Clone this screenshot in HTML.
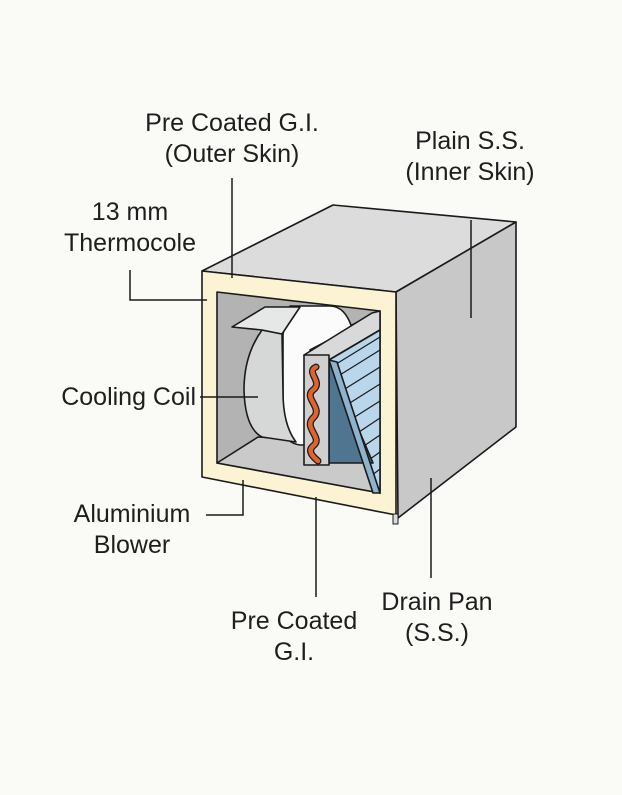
<!DOCTYPE html>
<html><head><meta charset="utf-8"><style>
html,body{margin:0;padding:0;background:#fafaf6;}
svg{display:block}
text{font-family:"Liberation Sans",sans-serif;font-size:25px;fill:#1e1e1e;}
</style></head><body>
<svg width="622" height="795" viewBox="0 0 622 795" xmlns="http://www.w3.org/2000/svg">
<rect width="622" height="795" fill="#fafaf6"/>
<g stroke="#1a1a1a" stroke-width="1.6" stroke-linejoin="round">
<polygon points="202,271 333,205 516,222 396,292" fill="#dcdcdc"/>
<polygon points="396,292 516,222 516,427 398,518" fill="#c8c8c8"/>
<polygon points="202,271 396,292 396,515 202,477" fill="#fbf3d4"/>
<rect x="393" y="514" width="5" height="10" fill="#dcdcdc" stroke-width="1"/>
<polygon points="217,292 380,311 380,493 217,463" fill="#b3b3b3"/>
<polygon points="258,318 350,325 350,440 258,437" fill="#c0c0c0" stroke="none"/>
<polygon points="217,463 258,437 355,443 380,493" fill="#cacaca"/>
<line x1="380" y1="311" x2="350" y2="326"/>
<!-- blower -->
<path d="M283,334 L283,430 Q286,443 300,445 L310,445 L310,350 L352,328 Q345,306 330,306 L290,306 Z" fill="#fbfbfb"/>
<path d="M262,330 Q244,355 244,390 Q245,428 262,437 L296,442 Q283,425 283,392 L282,334 Z" fill="#d6d8d8"/>
<polygon points="232,327 265,307 300,307 282,334 262,330" fill="#e6e8e8"/>
<!-- coil -->
<polygon points="304,355 372,313 380,311 380,330 329,360" fill="#d9d9d9"/>
<polygon points="329,360 380,330 380,493" fill="#b9d6ea"/>
<g stroke-width="1.2">
<line x1="333" y1="366" x2="380" y2="337"/>
<line x1="335" y1="378" x2="380" y2="350"/>
<line x1="340" y1="392" x2="380" y2="367"/>
<line x1="345" y1="406" x2="380" y2="384"/>
<line x1="350" y1="420" x2="380" y2="401"/>
<line x1="356" y1="434" x2="380" y2="418"/>
<line x1="361" y1="448" x2="380" y2="435"/>
<line x1="366" y1="462" x2="380" y2="452"/>
<line x1="371" y1="476" x2="380" y2="469"/>
</g>
<polygon points="329,360 373,463 329,463" fill="#4f7590"/>
<polygon points="329,360 337,362 380,493 373,493" fill="#8eb3cf"/>
<rect x="304" y="355" width="25" height="110" fill="#cfcfcf"/>
<path d="M316,367 C305,372 324,382 313,390 C303,398 324,408 313,418 C303,428 324,438 313,446 C306,452 316,459 318,461" fill="none" stroke="#1a1a1a" stroke-width="7" stroke-linecap="round"/>
<path d="M316,367 C305,372 324,382 313,390 C303,398 324,408 313,418 C303,428 324,438 313,446 C306,452 316,459 318,461" fill="none" stroke="#e0622c" stroke-width="4.5" stroke-linecap="round"/>
</g>
<g stroke="#1a1a1a" stroke-width="1.5" fill="none">
<line x1="232" y1="178" x2="232" y2="278"/>
<line x1="471" y1="220" x2="471" y2="318"/>
<polyline points="130,270 130,300 207,300"/>
<line x1="200" y1="397" x2="258" y2="397"/>
<polyline points="206,515 243,515 243,480"/>
<line x1="316" y1="497" x2="316" y2="597"/>
<line x1="431" y1="478" x2="431" y2="578"/>
</g>
<g text-anchor="middle">
<text x="232" y="131">Pre Coated G.I.</text>
<text x="232" y="162">(Outer Skin)</text>
<text x="470" y="149">Plain S.S.</text>
<text x="470" y="180">(Inner Skin)</text>
<text x="130" y="220">13 mm</text>
<text x="130" y="251">Thermocole</text>
<text x="132" y="522">Aluminium</text>
<text x="132" y="553">Blower</text>
<text x="294" y="629">Pre Coated</text>
<text x="294" y="660">G.I.</text>
<text x="437" y="610">Drain Pan</text>
<text x="437" y="641">(S.S.)</text>
</g>
<text x="196" y="405" text-anchor="end">Cooling Coil</text>
</svg>
</body></html>
